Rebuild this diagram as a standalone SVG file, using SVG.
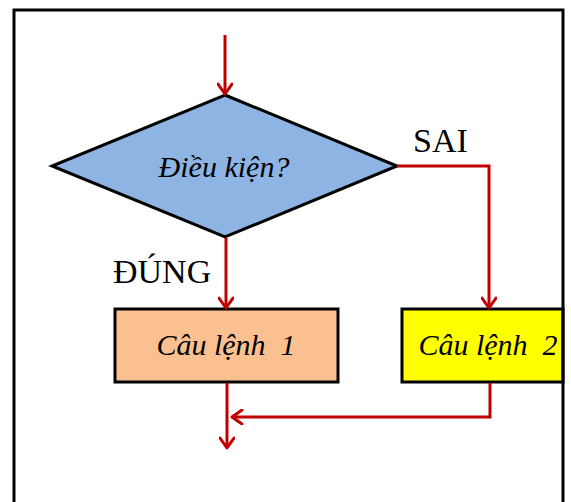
<svg xmlns="http://www.w3.org/2000/svg" width="571" height="502" viewBox="0 0 571 502">
  <defs>
    <marker id="arrow" viewBox="0 0 16 16" refX="13" refY="8" markerWidth="16" markerHeight="16" markerUnits="userSpaceOnUse" orient="auto">
      <path d="M3,1 L13,8 L3,15" fill="none" stroke="#C00000" stroke-width="3" stroke-linecap="round" stroke-linejoin="round"/>
    </marker>
  </defs>
  <style>
    .frame { fill: none; stroke: #000; stroke-width: 3; }
    .shape { stroke: #000; stroke-width: 3; }
    .flow { fill: none; stroke: #C00000; stroke-width: 3; }
    .label { font-family: "Liberation Serif", "Times New Roman", serif; fill: #000; }
    .it { font-style: italic; font-size: 30px; text-anchor: middle; }
    .br { font-size: 34px; }
  </style>
  <rect width="571" height="502" fill="#fff"/>

  <!-- Nodes -->
  <g id="condition">
    <polygon class="shape" points="225,95 397,166 225,237 52,166" fill="#8EB4E3"/>
    <text class="label it" x="224" y="177">Điều kiện?</text>
  </g>
  <g id="statement1">
    <rect class="shape" x="115" y="309" width="223" height="73" fill="#FAC090"/>
    <text class="label it" x="226" y="355" xml:space="preserve">Câu lệnh  1</text>
  </g>
  <g id="statement2">
    <rect class="shape" x="402" y="309" width="161" height="73" fill="#FFFF00"/>
    <text class="label it" x="488" y="355" xml:space="preserve">Câu lệnh  2</text>
  </g>

  <!-- Branch labels -->
  <g id="labels">
    <text class="label br" x="413" y="152">SAI</text>
    <text class="label br" x="113" y="283">ĐÚNG</text>
  </g>

  <!-- Connectors -->
  <g id="connectors">
    <line class="flow" x1="225" y1="35" x2="225" y2="94" marker-end="url(#arrow)"/>
    <line class="flow" x1="226" y1="238" x2="226" y2="308" marker-end="url(#arrow)"/>
    <polyline class="flow" points="397,166 489,166 489,308" marker-end="url(#arrow)"/>
    <line class="flow" x1="227" y1="383" x2="227" y2="448" marker-end="url(#arrow)"/>
    <polyline class="flow" points="490,383 490,417 232,417" marker-end="url(#arrow)"/>
  </g>

  <!-- Outer frame -->
  <rect class="frame" x="14" y="10" width="549" height="510"/>
</svg>
